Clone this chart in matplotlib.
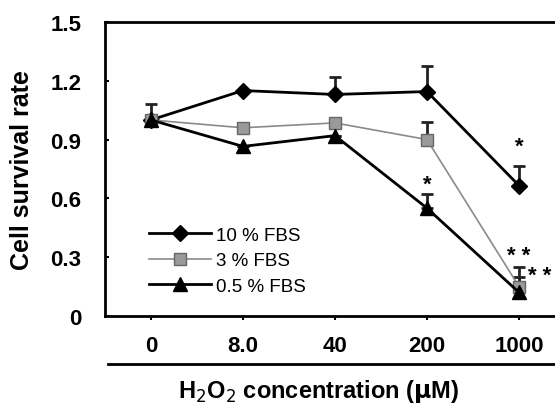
import matplotlib
matplotlib.use('Agg')
import matplotlib.pyplot as plt
from matplotlib.lines import Line2D

plt.rcParams['font.family'] = ['Liberation Sans', 'DejaVu Sans']

# datos
conc = ['0', '8.0', '40', '200', '1000']
fbs10 = [1.00, 1.15, 1.13, 1.145, 0.665]
fbs10_err = [0.08, 0.0, 0.09, 0.13, 0.10]
fbs3 = [1.00, 0.96, 0.985, 0.90, 0.15]
fbs3_err = [0.0, 0.0, 0.0, 0.09, 0.10]
fbs05 = [1.00, 0.865, 0.92, 0.55, 0.12]
fbs05_err = [0.0, 0.0, 0.0, 0.07, 0.08]

x = list(range(len(conc)))

fig = plt.figure(figsize=(5.55, 4.10), dpi=100)
ax = fig.add_axes([0.189, 0.227, 0.829, 0.717])

zeros = [0] * len(x)
estilos = [
    (fbs10, fbs10_err, '10 % FBS', dict(color='black', lw=2, marker='D', ms=8,
                                        mfc='black', mec='black')),
    (fbs3, fbs3_err, '3 % FBS', dict(color='#8a8a8a', lw=1.2, marker='s', ms=8,
                                     mfc='#9a9a9a', mec='#666666')),
    (fbs05, fbs05_err, '0.5 % FBS', dict(color='black', lw=2, marker='^', ms=10,
                                         mfc='black', mec='black')),
]
handles = []
for y, err, lab, st in estilos:
    ax.errorbar(x, y, yerr=[zeros, err], fmt='none', ecolor='#222222',
                capsize=4, elinewidth=2, capthick=2, zorder=2)
    h, = ax.plot(x, y, label=lab, zorder=3, **st)
    handles.append(h)

# asteriscos de significancia
ast = dict(fontsize=16, fontweight='bold')
ax.text(4, 0.84, '*', ha='center', **ast)
ax.text(3, 0.645, '*', ha='center', **ast)
ax.text(4, 0.28, '* *', ha='center', **ast)
ax.text(4.1, 0.18, '* *', ha='left', **ast)

ax.set_xlim(-0.5, 4.5)
ax.set_ylim(0, 1.5)
ax.set_xticks(x)
ax.set_xticklabels(conc)
ax.set_yticks([0, 0.3, 0.6, 0.9, 1.2, 1.5])
ax.set_yticklabels(['0', '0.3', '0.6', '0.9', '1.2', '1.5'])
for lab in ax.get_xticklabels() + ax.get_yticklabels():
    lab.set_fontweight('bold')
    lab.set_fontsize(16)
ax.tick_params(axis='x', length=3, width=1.5, pad=11)
ax.tick_params(axis='y', length=3, width=1.5, direction='in', pad=17)
for s in ax.spines.values():
    s.set_linewidth(2)

ax.set_ylabel('Cell survival rate', fontsize=18, fontweight='bold', labelpad=12)

ax.legend(handles=handles, loc='lower left', bbox_to_anchor=(0.075, 0.04),
          frameon=False, fontsize=13.5, handlelength=3.3, handletextpad=0.3,
          labelspacing=0.45, borderpad=0)

# linea bajo las etiquetas del eje x
fig.add_artist(Line2D([0.195, 1.0], [0.110, 0.110], color='black', lw=2))
fig.text(0.575, 0.03, r'H$_2$O$_2$ concentration ($\mathbf{\mu}$M)', ha='center',
         fontsize=17, fontweight='bold')

fig.savefig('out.png', dpi=100)
